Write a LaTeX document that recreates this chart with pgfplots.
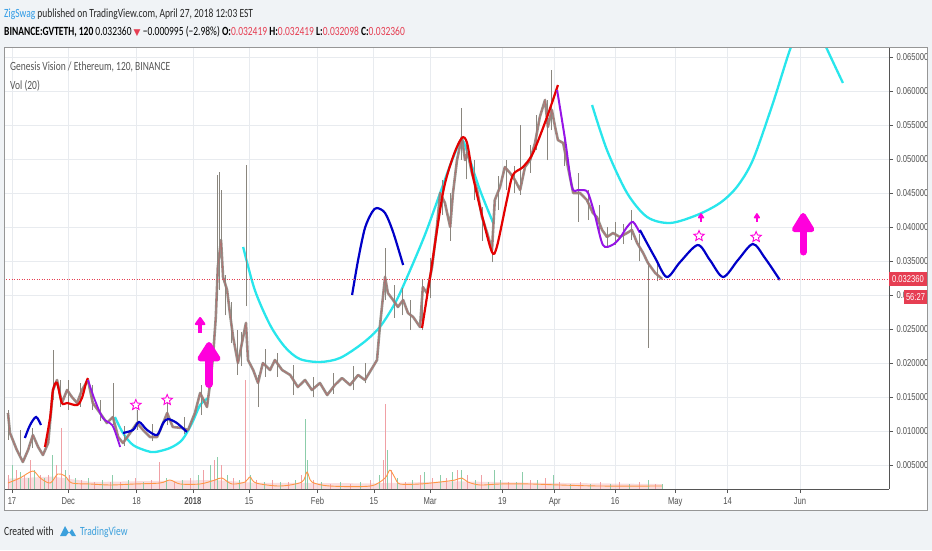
\documentclass[border=0pt]{standalone}
\usepackage{pgfplots}
\pgfplotsset{compat=1.18}
\usepackage{pgfplotstable}
\usepackage{fontspec}
\usetikzlibrary{arrows.meta}
\setmainfont{Carlito}[FakeStretch=0.76]
\newfontfamily\axf{Liberation Sans}[FakeStretch=0.76]
\newfontfamily\sym{DejaVu Sans}
\definecolor{bgc}{RGB}{240,243,246}
\definecolor{gridc}{RGB}{232,235,239}
\definecolor{axisc}{RGB}{85,85,85}
\definecolor{panelc}{RGB}{150,150,150}
\definecolor{labc}{RGB}{80,80,80}
\definecolor{hdrc}{RGB}{40,40,40}
\definecolor{legc}{RGB}{85,85,85}
\definecolor{logoc}{RGB}{60,160,220}
\definecolor{tvred}{RGB}{230,62,82}
\definecolor{tvblue}{RGB}{47,155,230}
\definecolor{cyanc}{RGB}{40,230,236}
\definecolor{dblue}{RGB}{0,0,200}
\definecolor{redc}{RGB}{228,0,0}
\definecolor{purc}{RGB}{150,20,230}
\definecolor{magc}{RGB}{255,0,220}
\definecolor{candc}{RGB}{138,134,126}
\definecolor{candr}{RGB}{196,96,100}
\definecolor{candg}{RGB}{90,160,120}
\definecolor{volpink}{RGB}{240,160,165}
\definecolor{volgreen}{RGB}{140,205,170}
\definecolor{volma}{RGB}{255,150,70}

\pgfdeclareplotmark{ostar}{%
 \pgfpathmoveto{\pgfpointpolar{90}{\pgfplotmarksize}}%
 \pgfpathlineto{\pgfpointpolar{126}{0.45\pgfplotmarksize}}%
 \pgfpathlineto{\pgfpointpolar{162}{\pgfplotmarksize}}%
 \pgfpathlineto{\pgfpointpolar{198}{0.45\pgfplotmarksize}}%
 \pgfpathlineto{\pgfpointpolar{234}{\pgfplotmarksize}}%
 \pgfpathlineto{\pgfpointpolar{270}{0.45\pgfplotmarksize}}%
 \pgfpathlineto{\pgfpointpolar{306}{\pgfplotmarksize}}%
 \pgfpathlineto{\pgfpointpolar{342}{0.45\pgfplotmarksize}}%
 \pgfpathlineto{\pgfpointpolar{18}{\pgfplotmarksize}}%
 \pgfpathlineto{\pgfpointpolar{54}{0.45\pgfplotmarksize}}%
 \pgfpathclose
 \pgfusepathqfillstroke}

\pgfplotstableread{
x y
-1.0 0.01265
-0.5 0.00971
1.2 0.00721
2.7 0.00544
4.0 0.00721
5.2 0.00941
6.5 0.00765
7.7 0.00647
9.0 0.00824
10.2 0.01603
11.2 0.01750
12.4 0.01412
13.7 0.01603
14.9 0.01500
16.2 0.01412
17.4 0.01603
18.9 0.01750
20.1 0.01412
21.9 0.01265
23.6 0.01118
25.1 0.01206
26.4 0.00912
27.6 0.00824
29.4 0.00971
31.1 0.01118
32.6 0.01015
34.3 0.00912
36.1 0.00912
37.6 0.01118
38.6 0.01265
40.0 0.01059
42.3 0.01044
43.8 0.01015
45.5 0.01265
46.8 0.01559
48.5 0.01353
49.3 0.01706
50.0 0.02088
50.7 0.02676
51.2 0.03412
52.0 0.03809
52.5 0.03265
53.5 0.03074
54.2 0.02735
55.0 0.02382
56.2 0.02000
57.2 0.02294
58.2 0.02588
58.7 0.02044
60.0 0.01897
61.2 0.01706
62.4 0.02000
64.2 0.01897
65.4 0.02044
67.2 0.01897
69.2 0.01824
71.1 0.01647
72.9 0.01750
74.6 0.01603
76.6 0.01706
78.4 0.01529
80.3 0.01676
82.1 0.01779
84.1 0.01676
86.1 0.01824
87.8 0.01750
89.6 0.01926
90.8 0.02044
91.5 0.02529
92.8 0.03265
93.5 0.03029
94.8 0.02926
96.0 0.02824
97.3 0.02926
98.5 0.02735
99.8 0.02676
101.5 0.02529
102.2 0.03118
103.2 0.03029
104.5 0.03412
105.7 0.04000
106.5 0.04500
107.7 0.04353
109.0 0.04000
109.7 0.04500
110.7 0.04985
111.9 0.05324
112.7 0.04985
113.4 0.05088
114.4 0.04794
115.7 0.04544
116.9 0.04147
118.2 0.03912
119.4 0.03662
120.1 0.04397
121.4 0.04588
122.6 0.04882
123.9 0.04794
125.1 0.04691
126.4 0.04544
127.6 0.04882
128.9 0.04985
130.1 0.05235
131.3 0.05618
132.6 0.05868
133.3 0.05471
134.3 0.05721
135.1 0.05471
135.8 0.05279
137.1 0.05235
138.3 0.04882
139.6 0.04500
141.3 0.04500
143.0 0.04397
144.5 0.04206
145.5 0.04147
146.8 0.03956
148.0 0.03853
149.5 0.03912
151.2 0.03853
153.0 0.03912
154.2 0.03956
155.5 0.03765
157.0 0.03618
158.2 0.03471
160.0 0.03324
161.7 0.03236
}\price

\pgfplotstableread{
x y v
-1.0 0.00868 0.00441
2.0 0.00647 0.00368
5.0 0.00750 0.00300
10.2 0.01456 0.00735
12.0 0.01350 0.00400
14.0 0.01309 0.00441
17.0 0.01350 0.00350
20.0 0.01309 0.00368
22.0 0.01150 0.00300
25.1 0.01088 0.00618
28.0 0.00780 0.00300
31.1 0.01015 0.00294
35.0 0.00850 0.00250
38.6 0.01088 0.00368
43.0 0.00950 0.00250
47.0 0.01235 0.00441
51.0 0.02926 0.01839
51.5 0.03074 0.01735
52.0 0.03662 0.00882
53.0 0.02700 0.00600
54.5 0.02300 0.00600
56.0 0.01824 0.00661
57.0 0.01950 0.00500
58.2 0.02838 0.02074
61.2 0.01353 0.00471
63.0 0.01800 0.00400
66.0 0.01800 0.00350
70.0 0.01529 0.00441
75.0 0.01500 0.00300
80.0 0.01550 0.00300
85.0 0.01600 0.00350
88.0 0.01700 0.00300
92.8 0.02926 0.00765
95.0 0.02662 0.00485
97.0 0.02700 0.00400
99.0 0.02485 0.00441
102.0 0.02485 0.00736
104.0 0.02950 0.00600
107.0 0.04176 0.00515
109.0 0.03800 0.00700
111.9 0.04985 0.00765
113.0 0.04700 0.00500
115.0 0.04397 0.00588
117.0 0.03800 0.00500
119.4 0.03485 0.00471
121.0 0.04250 0.00500
123.0 0.04544 0.00441
125.0 0.04500 0.00400
126.4 0.04471 0.01029
129.0 0.04800 0.00400
130.5 0.05132 0.00515
133.3 0.04985 0.00883
134.3 0.05426 0.00883
137.5 0.04900 0.00500
140.8 0.04074 0.00720
143.5 0.04100 0.00450
146.0 0.03926 0.00397
148.0 0.03700 0.00300
150.0 0.03735 0.00339
152.0 0.03750 0.00300
154.2 0.03809 0.00441
156.0 0.03500 0.00400
158.2 0.02221 0.01264
160.5 0.03200 0.00250
}\wicks

\pgfplotstableread{
x y
-1.0 0.00353
1.0 0.00426
3.0 0.00353
4.7 0.00574
7.0 0.00353
9.0 0.00353
11.0 0.00500
12.2 0.01044
14.4 0.00353
17.4 0.00279
20.6 0.00250
24.4 0.00250
26.9 0.00250
30.8 0.00309
34.8 0.00279
36.6 0.00544
40.3 0.00250
44.3 0.00309
47.5 0.00426
50.3 0.00574
52.2 0.00500
55.0 0.00309
58.0 0.01750
60.7 0.00279
64.7 0.00279
68.7 0.00250
72.1 0.00353
75.1 0.00279
79.1 0.00221
84.1 0.00221
89.1 0.00279
92.5 0.00574
93.0 0.01397
94.5 0.00426
97.8 0.00250
101.5 0.00353
104.5 0.00309
108.0 0.00309
110.7 0.00426
113.4 0.00353
116.9 0.00353
119.9 0.00300
123.4 0.00250
128.9 0.00279
132.8 0.00309
136.3 0.00250
141.3 0.00250
146.3 0.00250
151.2 0.00250
156.2 0.00250
160.0 0.00221
}\volpinkt

\pgfplotstableread{
x y
0.0 0.00500
2.0 0.00397
4.0 0.00309
5.7 0.00426
8.0 0.00309
10.0 0.00647
13.2 0.00426
15.9 0.00309
18.9 0.00309
22.4 0.00279
25.1 0.00353
28.9 0.00279
32.8 0.00250
38.3 0.00309
42.3 0.00279
46.3 0.00353
49.3 0.00500
51.2 0.00620
53.5 0.00353
56.7 0.00279
59.2 0.00353
62.7 0.00250
66.7 0.00250
70.6 0.00279
72.9 0.01176
73.6 0.00574
77.1 0.00250
81.6 0.00250
86.6 0.00250
91.5 0.00353
93.5 0.00721
96.0 0.00309
99.5 0.00279
102.7 0.00397
106.5 0.00353
109.5 0.00397
111.9 0.00426
115.2 0.00279
118.4 0.00250
119.9 0.00426
121.4 0.00279
125.4 0.00250
126.9 0.00397
130.8 0.00279
134.6 0.00353
138.8 0.00221
143.8 0.00221
148.8 0.00221
153.7 0.00221
158.2 0.00279
161.7 0.00221
}\volgreent

\pgfplotstableread{
x y
-1.0 0.00235
2.0 0.00309
5.2 0.00412
7.0 0.00309
9.5 0.00235
11.4 0.00368
13.2 0.00338
14.9 0.00235
19.4 0.00221
24.4 0.00206
30.6 0.00221
36.8 0.00235
39.3 0.00279
41.8 0.00221
46.8 0.00221
50.5 0.00279
52.2 0.00309
54.7 0.00221
58.0 0.00250
59.2 0.00324
60.7 0.00235
66.7 0.00191
72.1 0.00250
73.4 0.00397
74.6 0.00250
79.1 0.00191
89.1 0.00191
92.8 0.00309
94.0 0.00426
95.3 0.00309
96.5 0.00221
101.5 0.00221
106.5 0.00250
110.2 0.00279
111.9 0.00309
113.4 0.00250
116.4 0.00206
121.4 0.00221
128.9 0.00221
136.3 0.00206
146.3 0.00191
161.7 0.00191
}\volmat

\begin{document}
\begin{tikzpicture}[x=1pt,y=1pt]
% background and panel
\fill[bgc] (0,0) rectangle (932,550);
\fill[white] (4,40) rectangle (927,503);
\begin{axis}[
 at={(4pt,61pt)}, anchor=south west,
 width=885pt, height=442pt, scale only axis,
 xmin=-1.99, xmax=218.16, ymin=0.001471, ymax=0.066471,
 axis line style={draw=none},
 xtick={0,14,31,45,59,76,90,104,122,135,150,165,178,196},
 xticklabels={17,Dec,18,\textbf{2018},15,Feb,15,Mar,19,Apr,16,May,14,Jun},
 ytick={0.005,0.010,0.015,0.020,0.025,0.030,0.035,0.040,0.045,0.050,0.055,0.060,0.065},
 scaled y ticks=false,
 /pgf/number format/assume math mode=true,
 yticklabel style={/pgf/number format/fixed, /pgf/number format/fixed zerofill, /pgf/number format/precision=6},
 xtick pos=left, ytick pos=right, yticklabel pos=right,
 tick align=outside, major tick length=4pt,
 tick style={color=axisc, line width=0.6pt},
 grid=major, major grid style={color=gridc, line width=0.7pt},
 ticklabel style={font=\axf\fontsize{10}{12}\selectfont, text=labc},
 xticklabel style={yshift=-1pt},
]
% volume
\addplot[draw=none, fill=volpink, fill opacity=0.35] coordinates {(-1,0.00147) (-1,0.00300) (10,0.00330) (20,0.00250) (50,0.00280) (60,0.00240) (90,0.00230) (110,0.00260) (130,0.00240) (161.7,0.00220) (161.7,0.00147)};
\addplot[ycomb, volpink, line width=0.9pt] table[x=x,y=y] {\volpinkt};
\addplot[ycomb, volgreen, line width=0.9pt] table[x=x,y=y] {\volgreent};
\addplot[volma, line width=0.9pt, smooth] table[x=x,y=y] {\volmat};
% cyan curves
\addplot[cyanc, line width=2.3pt, smooth] coordinates {(25.6,0.01206) (27.6,0.00971) (30.1,0.00794) (33.6,0.00706) (35.6,0.00691) (39.3,0.00750) (42.3,0.00868) (44.8,0.01118) (46.8,0.01382) (48.8,0.01485)};
\addplot[cyanc, line width=2.3pt, smooth] coordinates {(57.5,0.03706) (60.4,0.03074) (64.2,0.02559) (67.9,0.02235) (71.6,0.02059) (76.6,0.02015) (81.6,0.02074) (87.3,0.02294) (91.5,0.02529) (95.3,0.02882) (98.3,0.03265) (102.7,0.03882) (106.5,0.04500) (109.5,0.04985) (111.9,0.05279) (113.9,0.04985) (116.4,0.04544) (119.7,0.04059)};
\addplot[cyanc, line width=2.3pt, smooth] coordinates {(144.3,0.05794) (148.0,0.05132) (153.0,0.04500) (158.0,0.04147) (163.7,0.04059) (170.4,0.04176) (176.1,0.04353) (180.3,0.04588) (184.3,0.04985) (189.3,0.05824) (193.5,0.06603) (196.0,0.06926) (198.5,0.07015) (200.5,0.06926) (202.5,0.06647) (206.7,0.06118)};
% candles
\addplot[candc, line width=2.6pt, line join=round, opacity=0.9] table[x=x,y=y] {\price};
\addplot[candc, line width=0.8pt, quiver={u=0, v=\thisrow{v}}] table[x=x,y=y] {\wicks};
\addplot[candr, line width=0.6pt, opacity=0.75] table[x=x,y=y] {\price};
% red / purple / blue swings
\addplot[dblue, line width=2.2pt, smooth] coordinates {(3.2,0.00897) (4.5,0.01088) (6.0,0.01206) (7.2,0.01088)};
\addplot[redc, line width=2.2pt, smooth] coordinates {(8.2,0.00765) (9.5,0.01206) (10.2,0.01603) (11.2,0.01706) (12.4,0.01412) (13.7,0.01412) (16.2,0.01382) (17.4,0.01485) (18.4,0.01706) (18.9,0.01779)};
\addplot[purc, line width=1.8pt, smooth] coordinates {(18.9,0.01750) (20.6,0.01456) (22.6,0.01191) (24.9,0.01088) (26.1,0.00912) (26.9,0.00765)};
\addplot[dblue, line width=2.2pt, smooth] coordinates {(27.6,0.00971) (30.1,0.01015) (31.6,0.01132) (33.6,0.01015) (36.1,0.00941) (37.6,0.01118) (38.8,0.01176) (41.0,0.01118) (43.5,0.00985)};
\addplot[dblue, line width=2.2pt, smooth] coordinates {(84.6,0.03000) (86.1,0.03515) (87.8,0.03985) (89.6,0.04221) (90.8,0.04279) (92.8,0.04206) (94.8,0.03926) (97.3,0.03441)};
\addplot[redc, line width=2.2pt, smooth] coordinates {(102.0,0.02515) (104.0,0.03265) (107.2,0.04500) (109.7,0.05029) (111.9,0.05309) (113.2,0.05235) (114.7,0.04735) (117.2,0.04103) (119.4,0.03632) (120.6,0.03706) (123.1,0.04397) (124.6,0.04765) (127.1,0.04882) (129.6,0.05088) (133.1,0.05618) (135.8,0.06088)};
\addplot[purc, line width=2.0pt, smooth] coordinates {(135.6,0.06015) (137.6,0.05279) (139.3,0.04588) (140.8,0.04544) (142.0,0.04544) (143.3,0.04500) (145.0,0.04176) (147.0,0.03735) (149.3,0.03735) (151.2,0.03838) (153.0,0.04000) (154.5,0.04074) (156.2,0.03912)};
\addplot[dblue, line width=2.2pt, smooth] coordinates {(156.2,0.03956) (160.0,0.03544) (162.9,0.03265) (166.2,0.03485) (170.6,0.03735) (173.6,0.03515) (176.9,0.03265) (180.6,0.03515) (184.3,0.03750) (187.3,0.03544) (191.0,0.03221)};
% last price line
\addplot[tvred, line width=0.8pt, dash pattern=on 1pt off 1.5pt] coordinates {(-1.99,0.03236) (218.16,0.03236)};
% stars
\addplot[only marks, mark=ostar, mark size=5.5pt, mark options={draw=magc, fill=white, line width=0.9pt}] coordinates {(30.8,0.01382) (38.6,0.01456) (170.9,0.03868) (185.1,0.03853)};
% arrows
\addplot[magc, line width=8pt, line cap=round, -{Triangle[width=26pt,length=22pt,round]}, quiver={u=0, v=0.00618}] coordinates {(49.0,0.01691)};
\addplot[magc, line width=3.5pt, -{Triangle[width=12pt,length=9pt,round]}, quiver={u=0, v=0.00235}] coordinates {(46.8,0.02441)};
\addplot[magc, line width=7pt, line cap=round, -{Triangle[width=25pt,length=22pt,round]}, quiver={u=0, v=0.00574}] coordinates {(196.8,0.03632)};
\addplot[magc, line width=2.2pt, -{Triangle[width=7pt,length=6pt,round]}, quiver={u=0, v=0.00130}] coordinates {(171.4,0.04074) (185.3,0.04074)};
\end{axis}
% frame lines
\draw[axisc, line width=0.8pt] (889,61) -- (889,503);
\draw[axisc, line width=0.8pt] (4,61) -- (889,61);
\draw[panelc, line width=0.7pt] (4,40) rectangle (927,503);
% price labels
\fill[tvred] (889,264) rectangle (927,278);
\node[text=white, font=\axf\fontsize{10}{12}\selectfont, inner sep=0pt] at (908,271) {0.032360};
\fill[tvred] (904,246) rectangle (927,260);
\node[text=white, font=\axf\fontsize{10}{12}\selectfont, inner sep=0pt] at (915.5,253) {56:27};
% header
\node[anchor=base west, inner sep=0pt, font=\fontsize{12.5}{14}\selectfont, text=hdrc] at (4,532) {\textcolor{tvblue}{ZigSwag} published on TradingView.com, April 27, 2018 12:03 EST};
\node[anchor=base west, inner sep=0pt, font=\fontsize{12.5}{14}\selectfont, text=black] at (4,514) {\textbf{BINANCE:GVTETH, 120} 0.032360 \textcolor{tvred}{\sym\fontsize{9}{10}\selectfont ▼} −0.000995 (−2.98\%) \textbf{O:}\textcolor{tvred}{0.032419} \textbf{H:}\textcolor{tvred}{0.032419} \textbf{L:}\textcolor{tvred}{0.032098} \textbf{C:}\textcolor{tvred}{0.032360}};
% in-plot legend
\node[anchor=base west, inner sep=0pt, font=\fontsize{12.5}{14}\selectfont, text=legc] at (10,479) {Genesis Vision / Ethereum, 120, BINANCE};
\node[anchor=base west, inner sep=0pt, font=\fontsize{12.5}{14}\selectfont, text=legc] at (10,460) {Vol (20)};
% footer
\node[anchor=base west, inner sep=0pt, font=\fontsize{12.5}{14}\selectfont, text=hdrc] at (4,15) {Created with};
\fill[logoc] (60,14) -- (65,24) -- (69,17) -- (72,21) -- (76,14) -- (72,14) -- (69,18) -- (66,14) -- cycle;
\node[anchor=base west, inner sep=0pt, font=\fontsize{12.5}{14}\selectfont, text=logoc] at (80,15) {TradingView};
\end{tikzpicture}
\end{document}
